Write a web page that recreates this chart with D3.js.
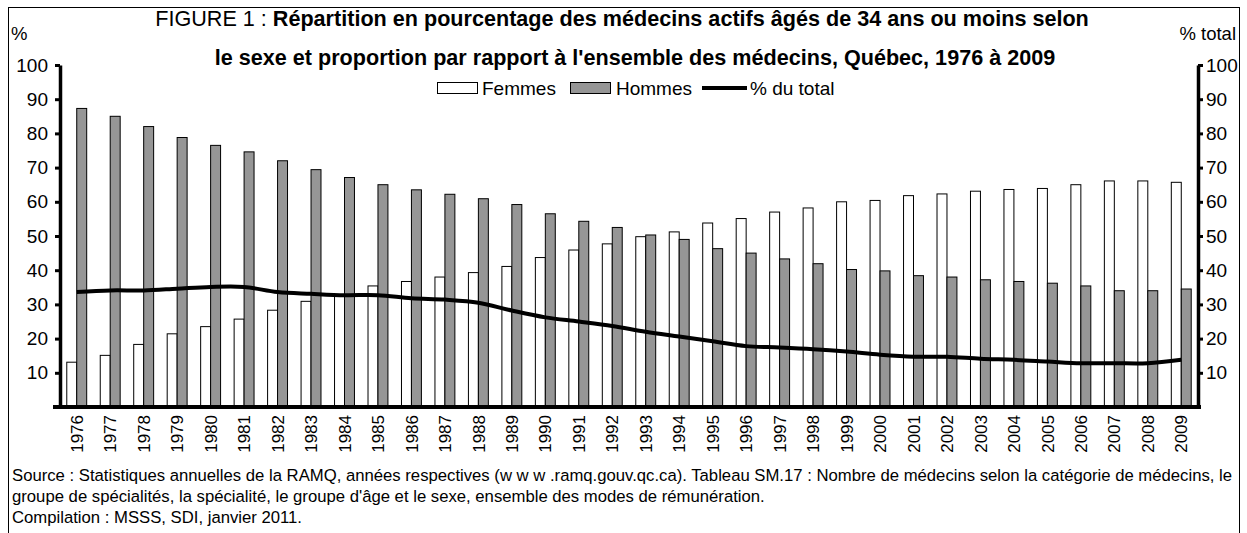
<!DOCTYPE html>
<html>
<head>
<meta charset="utf-8">
<script src="https://cdn.jsdelivr.net/npm/d3@7"></script>
<style>
body{margin:0;background:#fff;}
text{font-family:"Liberation Sans",Arial,sans-serif;fill:#000;}
</style>
</head>
<body>
<script>
// data
var years = ["1976","1977","1978","1979","1980","1981","1982","1983","1984","1985","1986","1987","1988","1989","1990","1991","1992","1993","1994","1995","1996","1997","1998","1999","2000","2001","2002","2003","2004","2005","2006","2007","2008","2009"];
var femmes = [13.1,15.1,18.3,21.4,23.5,25.7,28.3,30.9,32.6,35.4,36.7,38.0,39.3,41.1,43.7,45.9,47.7,49.8,51.2,53.8,55.1,57.0,58.2,60.0,60.4,61.8,62.3,63.1,63.6,63.9,65.0,66.1,66.1,65.7];
var hommes = [87.3,85.0,82.0,78.8,76.5,74.6,72.0,69.4,67.1,65.0,63.5,62.2,60.9,59.2,56.5,54.3,52.5,50.3,49.0,46.3,45.0,43.3,41.9,40.2,39.8,38.4,38.0,37.2,36.7,36.2,35.4,34.0,34.0,34.5];
var total = [33.6,34.1,34.1,34.6,35.1,35.1,33.6,33.1,32.7,32.7,31.8,31.4,30.5,28.2,26.2,25.0,23.7,22.0,20.6,19.2,17.8,17.4,16.9,16.2,15.3,14.7,14.7,14.1,13.8,13.3,12.8,12.8,12.8,13.8];
var yTicks = [10,20,30,40,50,60,70,80,90,100];
var sourceLines = [
  "Source : Statistiques annuelles de la RAMQ, années respectives (w w w .ramq.gouv.qc.ca). Tableau SM.17 : Nombre de médecins selon la catégorie de médecins, le",
  "groupe de spécialités, la spécialité, le groupe d'âge et le sexe, ensemble des modes de rémunération.",
  "Compilation : MSSS, SDI, janvier 2011."
];

var w = 1247, h = 533;
var mLeft = 60, mRight = 1198, mTop = 65, mBottom = 407;

var svg = d3.select("body").append("svg")
  .attr("width", w)
  .attr("height", h);

// frame
svg.append("rect")
  .attr("x", 8.5).attr("y", 7.5)
  .attr("width", 1231).attr("height", 540)
  .attr("fill", "none").attr("stroke", "#000").attr("stroke-width", 1);

var x = d3.scaleBand().domain(years).range([mLeft, mRight]);
var x1 = d3.scaleBand().domain(["F","H"]).range([0, x.bandwidth()]).paddingOuter(0.68);
var y = d3.scaleLinear().domain([0, 100]).range([mBottom, mTop]);

// bars
var g = svg.append("g");
g.selectAll("rect.f")
  .data(femmes)
  .enter()
  .append("rect")
  .attr("class", "f")
  .attr("x", function(d, i){ return x(years[i]) + x1("F"); })
  .attr("y", function(d){ return y(d); })
  .attr("width", x1.bandwidth())
  .attr("height", function(d){ return y(0) - y(d); })
  .attr("fill", "#fff")
  .attr("stroke", "#000");

g.selectAll("rect.h")
  .data(hommes)
  .enter()
  .append("rect")
  .attr("class", "h")
  .attr("x", function(d, i){ return x(years[i]) + x1("H"); })
  .attr("y", function(d){ return y(d); })
  .attr("width", x1.bandwidth())
  .attr("height", function(d){ return y(0) - y(d); })
  .attr("fill", "#969696")
  .attr("stroke", "#000");

// % du total line (same 0-100 scale on the right)
var line = d3.line()
  .x(function(d, i){ return x(years[i]) + x.bandwidth() / 2; })
  .y(function(d){ return y(d); })
  .curve(d3.curveCatmullRom);

svg.append("path")
  .datum(total)
  .attr("d", line)
  .attr("fill", "none")
  .attr("stroke", "#000")
  .attr("stroke-width", 4);

// axes
var leftAxis = svg.append("g")
  .attr("transform", "translate(" + mLeft + ",0)")
  .call(d3.axisLeft(y).tickValues(yTicks).tickSize(5).tickPadding(7).tickSizeOuter(0));
var rightAxis = svg.append("g")
  .attr("transform", "translate(" + mRight + ",0)")
  .call(d3.axisRight(y).tickValues(yTicks).tickSize(5).tickPadding(3).tickSizeOuter(0));

[leftAxis, rightAxis].forEach(function(a){
  a.select(".domain").attr("stroke-width", 3.5);
  a.selectAll(".tick line").attr("stroke-width", 3);
  a.selectAll(".tick text").style("font-size", "19px").style("font-family", "'Liberation Sans',Arial,sans-serif");
});

svg.append("line")
  .attr("x1", mLeft - 7).attr("x2", mRight + 3)
  .attr("y1", mBottom).attr("y2", mBottom)
  .attr("stroke", "#000").attr("stroke-width", 4);

// year labels
svg.selectAll("text.year")
  .data(years)
  .enter()
  .append("text")
  .attr("class", "year")
  .attr("transform", function(d){ return "translate(" + (x(d) + x.bandwidth() / 2) + ",415) rotate(-90)"; })
  .attr("text-anchor", "end")
  .attr("dy", "0.36em")
  .style("font-size", "17px")
  .text(function(d){ return d; });

// axis titles
svg.append("text").attr("x", 11).attr("y", 40).style("font-size", "18.5px").text("%");
svg.append("text").attr("x", 1236).attr("y", 40).attr("text-anchor", "end").style("font-size", "18.5px").text("% total");

// title
var t1 = svg.append("text").attr("x", 622).attr("y", 26).attr("text-anchor", "middle").style("font-size", "21.6px");
t1.append("tspan").text("FIGURE 1 : ");
t1.append("tspan").style("font-weight", "bold").text("Répartition en pourcentage des médecins actifs âgés de 34 ans ou moins selon");
svg.append("text").attr("x", 635).attr("y", 65).attr("text-anchor", "middle")
  .style("font-size", "21.6px").style("font-weight", "bold")
  .text("le sexe et proportion par rapport à l'ensemble des médecins, Québec, 1976 à 2009");

// legend
var lg = svg.append("g").attr("transform", "translate(0,88)");
lg.append("rect").attr("x", 437.5).attr("y", -5.5).attr("width", 40).attr("height", 11).attr("fill", "#fff").attr("stroke", "#000");
lg.append("text").attr("x", 482).attr("y", 7).style("font-size", "19px").text("Femmes");
lg.append("rect").attr("x", 570.5).attr("y", -5.5).attr("width", 40).attr("height", 11).attr("fill", "#969696").attr("stroke", "#000");
lg.append("text").attr("x", 616).attr("y", 7).style("font-size", "19px").text("Hommes");
lg.append("line").attr("x1", 702).attr("x2", 747).attr("y1", 0).attr("y2", 0).attr("stroke", "#000").attr("stroke-width", 4);
lg.append("text").attr("x", 750).attr("y", 7).style("font-size", "19px").text("% du total");

// source
svg.selectAll("text.src")
  .data(sourceLines)
  .enter()
  .append("text")
  .attr("class", "src")
  .attr("x", 12)
  .attr("y", function(d, i){ return 481 + i * 21; })
  .style("font-size", "16.7px")
  .text(function(d){ return d; });
</script>
</body>
</html>
